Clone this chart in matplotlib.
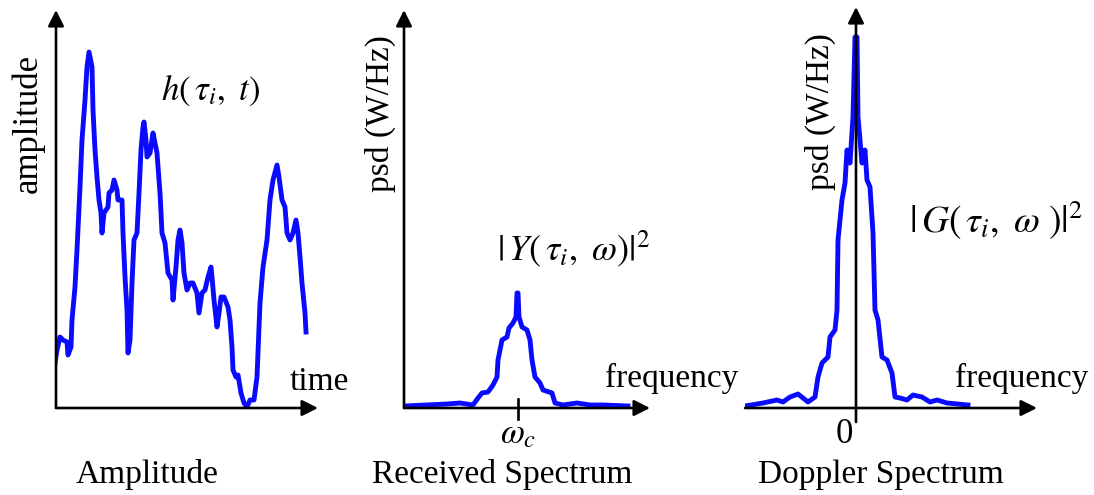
import numpy as np
import matplotlib
matplotlib.use("Agg")
import matplotlib.pyplot as plt

plt.rcParams['font.family'] = ['Liberation Serif', 'DejaVu Serif']
plt.rcParams['mathtext.fontset'] = 'stix'

# fading amplitude h(tau_i, t)
time_vals = [0, 2, 5, 8, 12, 13, 16, 17, 20, 22, 25, 27, 30, 32, 34, 37, 38, 40, 42, 44,
             46, 47, 49, 53, 54, 57, 59, 62, 63, 67, 68, 70, 72, 73, 75, 77, 79, 82, 84, 86,
             88, 89, 91, 92, 95, 98, 100, 102, 105, 107, 110, 113, 117, 118, 121, 123, 125, 127, 129, 132,
             135, 138, 142, 144, 147, 150, 153, 156, 157, 159, 162, 164, 166, 169, 173, 175, 177, 178, 181, 183,
             186, 189, 192, 195, 199, 202, 205, 208, 212, 215, 218, 222, 224, 227, 230, 232, 235, 238, 241, 243,
             245, 247, 250, 251]
amp_vals = [45, 58, 71, 68, 66, 53, 61, 88, 121, 158, 221, 268, 308, 341, 356, 341, 298, 258, 231, 208,
            195, 175, 195, 201, 215, 218, 228, 218, 208, 208, 175, 131, 98, 55, 68, 125, 168, 175, 215, 258,
            281, 286, 268, 251, 255, 275, 265, 255, 215, 175, 165, 135, 128, 108, 141, 168, 178, 165, 135, 118,
            125, 125, 115, 95, 115, 118, 131, 141, 131, 108, 81, 95, 111, 111, 101, 88, 61, 38, 31, 33,
            15, 5, 1, 8, 8, 31, 105, 141, 168, 208, 228, 243, 231, 208, 201, 175, 168, 175, 188, 175,
            151, 125, 95, 76]

# received spectrum |Y(tau_i, w)|^2, frequency relative to w_c
rx_freq = [-113, -71, -58, -45, -40, -36, -30, -25, -21, -20, -16, -11, -9, -5, -2, -1, 0, 1, 4, 9,
           12, 14, 17, 22, 25, 34, 37, 45, 59, 72, 85, 110]
rx_psd = [2, 4, 5, 3, 10, 15, 16, 23, 31, 48, 68, 71, 80, 85, 91, 115, 115, 91, 81, 78,
          68, 48, 31, 25, 18, 15, 5, 3, 5, 3, 3, 2]

# doppler spectrum |G(tau_i, w)|^2
dop_freq = [-111, -93, -79, -73, -66, -58, -53, -48, -41, -38, -34, -28, -26, -21, -19, -18, -14, -11, -9, -6,
            -3, -1, 1, 2, 6, 9, 11, 14, 17, 19, 22, 26, 31, 36, 39, 44, 51, 57, 66, 74,
            81, 91, 112]
dop_psd = [2, 5, 8, 6, 11, 14, 10, 6, 11, 31, 45, 51, 71, 78, 98, 168, 208, 225, 258, 245,
           291, 371, 371, 291, 245, 258, 228, 221, 175, 98, 88, 51, 48, 35, 11, 10, 8, 13, 11, 6,
           8, 5, 3]

W, H = 1094, 495
fig = plt.figure(figsize=(W / 100, H / 100), dpi=100)


def make_ax(x0, x1, y0, y1, xlim, ylim):
    # x0..x1, y0..y1 are pixel edges (y from top)
    ax = fig.add_axes([x0 / W, 1 - y1 / H, (x1 - x0) / W, (y1 - y0) / H])
    ax.set_xlim(*xlim)
    ax.set_ylim(*ylim)
    ax.axis('off')
    return ax


def arrow(ax, start, end):
    ax.annotate('', xy=end, xytext=start,
                arrowprops=dict(arrowstyle='-|>', mutation_scale=24, lw=1.9,
                                color='black', shrinkA=0, shrinkB=0))


def ftext(x, y, s, **kw):
    fig.text(x / W, 1 - y / H, s, **kw)


blue = '#0a0aff'
lw = 3.5

# panel 1
ax1 = make_ax(55, 318, 10, 408, (0, 263), (0, 398))
ax1.plot(time_vals, amp_vals, color=blue, lw=lw, solid_joinstyle='round')
arrow(ax1, (1, 0), (1, 398))
arrow(ax1, (1, 0), (263, 0))

# panel 2
ax2 = make_ax(404, 650, 10, 430, (-114, 132), (-22, 398))
ax2.plot(rx_freq, rx_psd, color=blue, lw=lw, solid_joinstyle='round')
arrow(ax2, (-114, 0), (-114, 398))
arrow(ax2, (-114, 0), (132, 0))
ax2.plot([0, 0], [-11, 9], color='black', lw=1.9)

# panel 3
ax3 = make_ax(745, 1037, 7, 430, (-111, 181), (-22, 401))
ax3.plot(dop_freq, dop_psd, color=blue, lw=lw, solid_joinstyle='round')
arrow(ax3, (0, -14), (0, 401))
arrow(ax3, (-111, 0), (181, 0))

fs = 24
ftext(28, 123, 'amplitude', fontsize=25, rotation=90, ha='center', va='center')
ftext(380, 114, 'psd (W/Hz)', fontsize=fs, rotation=90, ha='center', va='center')
ftext(820, 112, 'psd (W/Hz)', fontsize=fs, rotation=90, ha='center', va='center')

ftext(319, 390, 'time', fontsize=fs, ha='center', va='baseline')
ftext(672, 387, 'frequency', fontsize=fs, ha='center', va='baseline')
ftext(1022, 387, 'frequency', fontsize=fs, ha='center', va='baseline')

ftext(211, 100, r'$h(\,\tau_i,\ t)$', fontsize=25, ha='center', va='baseline')
ftext(573, 260, r'$|\,Y(\,\tau_i,\ \omega)|^2$', fontsize=26, ha='center', va='baseline')
ftext(996, 233, r'$|\,G(\,\tau_i,\ \omega\ )|^2$', fontsize=27, ha='center', va='baseline')

ftext(518, 443, r'$\omega_c$', fontsize=25, ha='center', va='baseline')
ftext(844, 443, '0', fontsize=25, ha='center', va='baseline')

ftext(147, 483, 'Amplitude', fontsize=fs, ha='center', va='baseline')
ftext(502, 483, 'Received Spectrum', fontsize=fs, ha='center', va='baseline')
ftext(881, 483, 'Doppler Spectrum', fontsize=fs, ha='center', va='baseline')

fig.savefig('out.png', dpi=100)
